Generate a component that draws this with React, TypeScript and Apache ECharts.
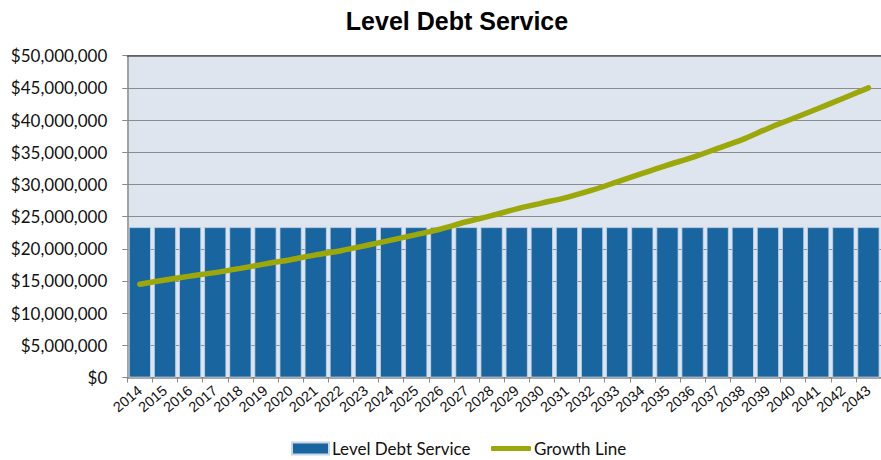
import React, { useEffect, useRef } from "react";
import * as echarts from "echarts";

const years = [
  "2014", "2015", "2016", "2017", "2018", "2019", "2020", "2021", "2022", "2023",
  "2024", "2025", "2026", "2027", "2028", "2029", "2030", "2031", "2032", "2033",
  "2034", "2035", "2036", "2037", "2038", "2039", "2040", "2041", "2042", "2043",
];

const levelDebtService = years.map(() => 23350000);

const growthLine = [
  14500000, 15150000, 15750000, 16300000, 16950000, 17650000, 18300000, 19050000, 19700000, 20500000,
  21350000, 22200000, 23100000, 24200000, 25150000, 26200000, 27100000, 28000000, 29100000, 30400000,
  31700000, 33000000, 34200000, 35600000, 37000000, 38700000, 40250000, 41800000, 43400000, 45000000,
];

const yMin = 0;
const yMax = 50000000;
const yInterval = 5000000;

export default function App() {
  const ref = useRef<HTMLDivElement>(null);

  useEffect(() => {
    if (!ref.current) return;
    const chart = echarts.init(ref.current, null, { renderer: "svg" });
    const labelFont = "Lato, 'Open Sans', sans-serif";
    chart.setOption({
      animation: false,
      backgroundColor: "#ffffff",
      title: {
        text: "Level Debt Service",
        left: 452,
        textAlign: "center",
        top: 3,
        textStyle: {
          fontFamily: "'Liberation Sans', Arial, sans-serif",
          fontWeight: "bold",
          fontSize: 25,
          color: "#000000",
        },
      },
      grid: {
        left: 127.3,
        right: -8.3,
        top: 55.7,
        bottom: 82.5,
        show: true,
        backgroundColor: "#DFE5EF",
        borderWidth: 0,
      },
      legend: [
        {
          data: ["Level Debt Service"],
          left: 291,
          top: 440,
          icon: "rect",
          itemWidth: 37,
          itemHeight: 12,
          itemGap: 3,
          textStyle: { fontFamily: labelFont, fontSize: 17, color: "#111", padding: [0, 0, 0, -2] },
          padding: 0,
        },
        {
          data: ["Growth Line"],
          left: 491,
          top: 440,
          icon: "roundRect",
          itemWidth: 40,
          itemHeight: 5,
          textStyle: { fontFamily: labelFont, fontSize: 17, color: "#111", padding: [0, 0, 0, -2] },
          padding: 0,
        },
      ],
      xAxis: [
        {
          type: "category",
          data: years,
          axisLine: { show: true, lineStyle: { color: "#8a8a8a", width: 1.5 } },
          axisTick: { show: true, length: 5, lineStyle: { color: "#8a8a8a", width: 1 } },
          axisLabel: {
            interval: 0,
            rotate: 40,
            margin: 11,
            fontFamily: "'Liberation Sans', Arial, sans-serif",
            fontSize: 14.5,
            color: "#111",
          },
          splitLine: { show: false },
        },
        {
          type: "category",
          data: years,
          position: "top",
          axisLine: { show: true, lineStyle: { color: "#555555", width: 1.5 } },
          axisTick: { show: false },
          axisLabel: { show: false },
        },
      ],
      yAxis: {
        type: "value",
        min: yMin,
        max: yMax,
        interval: yInterval,
        axisLine: { show: true, lineStyle: { color: "#8a8a8a", width: 1.5 } },
        axisTick: { show: true, length: 5, lineStyle: { color: "#8a8a8a", width: 1 } },
        axisLabel: {
          margin: 20,
          fontFamily: labelFont,
          fontSize: 17,
          color: "#111",
          formatter: (v: number) => "$" + v.toLocaleString("en-US"),
        },
        splitLine: { show: true, lineStyle: { color: "#8c8c8c", width: 1 } },
      },
      series: [
        {
          name: "Level Debt Service",
          type: "bar",
          data: levelDebtService,
          barCategoryGap: "12%",
          itemStyle: { color: "#1965A0", borderColor: "#c9d6e6", borderWidth: 0.8 },
        },
        {
          name: "Growth Line",
          type: "line",
          data: growthLine,
          smooth: 0.3,
          symbol: "none",
          lineStyle: { color: "#9CA80A", width: 5.5, cap: "round" },
          itemStyle: { color: "#9CA80A" },
        },
      ],
    });
    return () => chart.dispose();
  }, []);

  return (
    <div
      ref={ref}
      style={{ position: "fixed", left: 0, top: 0, width: 881, height: 460 }}
    />
  );
}
